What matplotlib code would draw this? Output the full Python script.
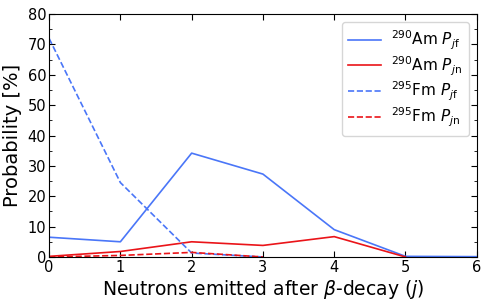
import matplotlib
matplotlib.use("Agg")
import matplotlib.pyplot as plt
from matplotlib.ticker import MultipleLocator

j = [0, 1, 2, 3, 4, 5, 6]
am_pjf = [6.5, 5.0, 34.2, 27.3, 9.0, 0.2, 0.1]
am_pjn = [0.2, 1.8, 5.0, 3.8, 6.7, 0.0]
fm_j = [0, 1, 2, 3]
fm_pjf = [72.0, 24.5, 1.3, 0.0]
fm_pjn = [0.0, 0.5, 1.5, 0.0]

blue = '#4a76f8'
red = '#ea1419'

fig = plt.figure(figsize=(4.91, 3.07), dpi=100)
ax = fig.add_axes([0.100, 0.163, 0.871, 0.791])

ax.plot(j, am_pjf, color=blue, lw=1.2, label=r'$^{290}$Am $P_{j\mathrm{f}}$')
ax.plot(j[:len(am_pjn)], am_pjn, color=red, lw=1.2, label=r'$^{290}$Am $P_{j\mathrm{n}}$')
ax.plot(fm_j, fm_pjf, color=blue, lw=1.2, ls='--', label=r'$^{295}$Fm $P_{j\mathrm{f}}$')
ax.plot(fm_j, fm_pjn, color=red, lw=1.2, ls='--', label=r'$^{295}$Fm $P_{j\mathrm{n}}$')

ax.set_xlim(0, 6)
ax.set_ylim(0, 80)
ax.xaxis.set_major_locator(MultipleLocator(1))
ax.yaxis.set_major_locator(MultipleLocator(10))
ax.yaxis.set_minor_locator(MultipleLocator(5))
ax.tick_params(which='both', direction='in', top=True, right=True, labelsize=10.5)
ax.tick_params(which='major', length=4)
ax.tick_params(which='minor', length=2)
ax.tick_params(axis='x', pad=2)
ax.tick_params(axis='y', pad=2)

ax.set_xlabel(r'Neutrons emitted after $\beta$-decay ($j$)', fontsize=13.5, labelpad=2)
ax.set_ylabel('Probability [%]', fontsize=14, labelpad=4)

leg = ax.legend(loc='upper right', fontsize=11, handlelength=2.1, handletextpad=0.7,
                labelspacing=0.15, borderpad=0.45, borderaxespad=0.5)
leg.get_frame().set_edgecolor('#cccccc')

fig.savefig('out.png', dpi=100)
